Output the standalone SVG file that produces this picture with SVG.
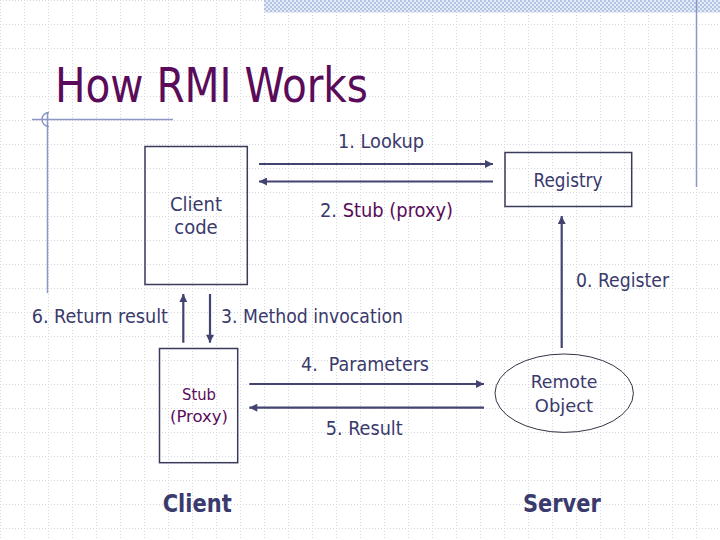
<svg xmlns="http://www.w3.org/2000/svg" width="720" height="540" viewBox="0 0 720 540">
<defs>
<pattern id="grid" x="0" y="0" width="24" height="24" patternUnits="userSpaceOnUse">
<path d="M0.5 0 V24 M0 0.5 H24" stroke="#d4d4dc" stroke-width="1" stroke-dasharray="1 2" fill="none"/>
</pattern>
<pattern id="checker" x="0" y="0" width="4" height="4" patternUnits="userSpaceOnUse">
<rect width="4" height="4" fill="#e4eaf6"/>
<rect width="2" height="2" fill="#b4c4e4"/>
<rect x="2" y="2" width="2" height="2" fill="#b4c4e4"/>
</pattern>
<marker id="ah" viewBox="0 0 10 10" refX="10" refY="5" markerWidth="9" markerHeight="8" markerUnits="userSpaceOnUse" orient="auto">
<path d="M0 0 L10 5 L0 10 Z" fill="#434372"/>
</marker>
<style>
.t{font-family:"DejaVu Sans Condensed","DejaVu Sans",sans-serif;font-stretch:condensed;fill:#3a3a6c;font-size:20px}
.p{fill:#5a0c5a}
.b{font-weight:bold;font-size:24px}
.box{fill:none;stroke:#3a3a5c;stroke-width:1.5}
.c{stroke:#434372;stroke-width:2.2;fill:none}
.deco{stroke:#8a96c4;stroke-width:1.5;fill:none}
</style>
</defs>
<rect width="720" height="540" fill="#ffffff"/>
<rect width="720" height="540" fill="url(#grid)"/>
<rect x="264" y="0" width="456" height="12.5" fill="url(#checker)"/>
<g id="decoration">
<line class="deco" x1="696.5" y1="0" x2="696.5" y2="187"/>
<line class="deco" x1="32" y1="119.5" x2="173" y2="119.5"/>
<line class="deco" x1="47.5" y1="112" x2="47.5" y2="293"/>
<path class="deco" d="M49 112.5 A7 7 0 1 0 49 126.5" stroke-width="1"/>
</g>
<text id="title" class="t p" x="55" y="102" style="font-size:48px" textLength="313" lengthAdjust="spacingAndGlyphs">How RMI Works</text>
<g id="connectors">
<line class="c" x1="259" y1="164" x2="493" y2="164" marker-end="url(#ah)"/>
<line class="c" x1="493" y1="181.5" x2="259" y2="181.5" marker-end="url(#ah)"/>
<line class="c" x1="561.7" y1="348" x2="561.7" y2="216" marker-end="url(#ah)"/>
<line class="c" x1="183.3" y1="342.7" x2="183.3" y2="294" marker-end="url(#ah)"/>
<line class="c" x1="210" y1="294" x2="210" y2="342.7" marker-end="url(#ah)"/>
<line class="c" x1="249.3" y1="384" x2="484" y2="384" marker-end="url(#ah)"/>
<line class="c" x1="484" y1="407.7" x2="249.3" y2="407.7" marker-end="url(#ah)"/>
</g>
<g id="labels">
<text class="t" x="338" y="148" textLength="86" lengthAdjust="spacingAndGlyphs">1. Lookup</text>
<text class="t" x="320" y="217" textLength="133" lengthAdjust="spacingAndGlyphs">2. <tspan class="p">Stub (proxy)</tspan></text>
<text class="t" x="576" y="286.5" textLength="93" lengthAdjust="spacingAndGlyphs">0. Register</text>
<text class="t" x="31.7" y="322.7" textLength="136.3" lengthAdjust="spacingAndGlyphs">6. Return result</text>
<text class="t" x="221" y="322.7" textLength="182" lengthAdjust="spacingAndGlyphs">3. Method invocation</text>
<text class="t" x="301" y="370.7" textLength="128" lengthAdjust="spacingAndGlyphs" xml:space="preserve">4.  Parameters</text>
<text class="t" x="325.7" y="435" textLength="77" lengthAdjust="spacingAndGlyphs">5. Result</text>
</g>
<g id="client-code">
<rect class="box" x="145" y="146.5" width="102.3" height="138"/>
<text class="t" x="196" y="211" text-anchor="middle">Client</text>
<text class="t" x="196" y="234" text-anchor="middle">code</text>
</g>
<g id="registry">
<rect class="box" x="505" y="152.5" width="126.7" height="54"/>
<text class="t" x="568" y="186.5" text-anchor="middle" textLength="69" lengthAdjust="spacingAndGlyphs">Registry</text>
</g>
<g id="stub">
<rect class="box" x="159.5" y="348.5" width="78.2" height="114.2" stroke-width="1.2"/>
<text class="t p" x="199" y="400" text-anchor="middle" style="font-size:16.5px" textLength="34" lengthAdjust="spacingAndGlyphs">Stub</text>
<text class="t p" x="199" y="422" text-anchor="middle" style="font-size:16.5px" textLength="58" lengthAdjust="spacingAndGlyphs">(Proxy)</text>
</g>
<g id="remote-object">
<ellipse cx="564.2" cy="393.2" rx="69.2" ry="39.2" fill="none" stroke="#333344" stroke-width="1"/>
<text class="t" x="564" y="388" text-anchor="middle" style="font-size:18.5px" textLength="66.7" lengthAdjust="spacingAndGlyphs">Remote</text>
<text class="t" x="564" y="412" text-anchor="middle" style="font-size:18.5px" textLength="58.3" lengthAdjust="spacingAndGlyphs">Object</text>
</g>
<g id="client-label">
<text class="t b" x="162.7" y="511.7" textLength="69" lengthAdjust="spacingAndGlyphs">Client</text>
</g>
<g id="server-label">
<text class="t b" x="523" y="512" textLength="77.7" lengthAdjust="spacingAndGlyphs">Server</text>
</g>
</svg>
